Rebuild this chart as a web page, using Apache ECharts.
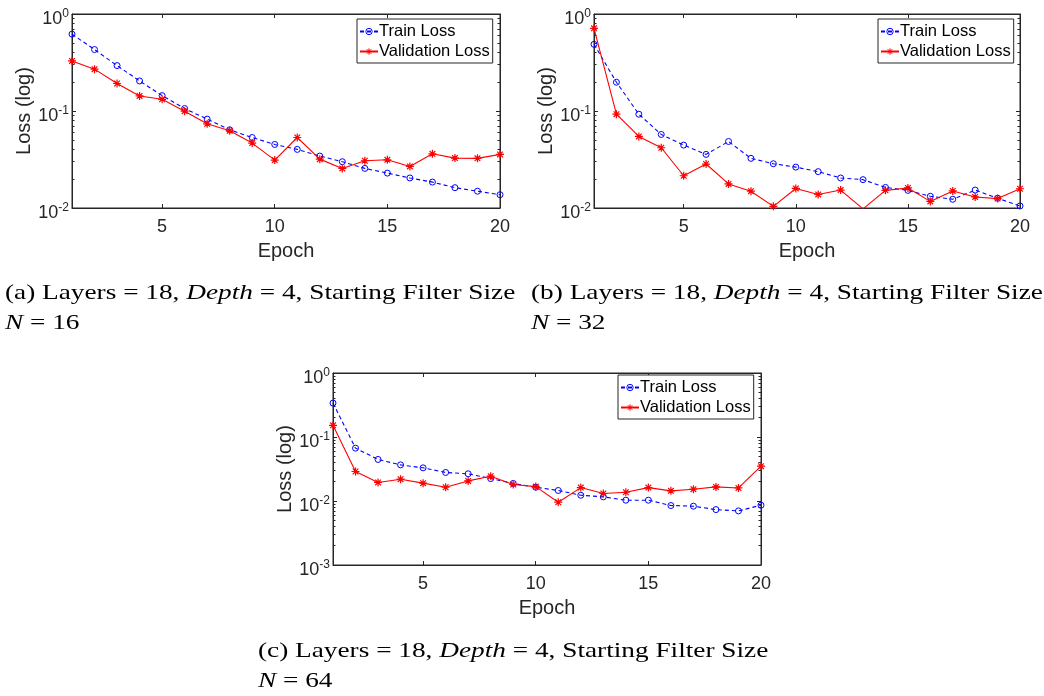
<!DOCTYPE html>
<html>
<head>
<meta charset="utf-8">
<script src="https://cdn.jsdelivr.net/npm/echarts@6/dist/echarts.min.js"></script>
<style>
  html, body { margin: 0; padding: 0; background: #ffffff; }
  #chart { width: 1044px; height: 696px; }
</style>
</head>
<body>
<div id="chart"></div>
<script>
// Epochs 1..20
const epochs = [1, 2, 3, 4, 5, 6, 7, 8, 9, 10, 11, 12, 13, 14, 15, 16, 17, 18, 19, 20];

// (a) N = 16
const trainA = [0.62, 0.43, 0.294, 0.204, 0.144, 0.106, 0.0824, 0.064, 0.0533, 0.0452,
                0.0402, 0.0343, 0.030, 0.0256, 0.0229, 0.0204, 0.0185, 0.0162, 0.0149, 0.0137];
const validA = [0.328, 0.27, 0.192, 0.143, 0.132, 0.0996, 0.0738, 0.0625, 0.0467, 0.0312,
                0.0533, 0.0319, 0.0256, 0.0307, 0.0314, 0.0268, 0.0362, 0.0327, 0.0325, 0.0357];

// (b) N = 32
const trainB = [0.487, 0.198, 0.0927, 0.0573, 0.0445, 0.0357, 0.0485, 0.0325, 0.0286, 0.0264,
                0.0237, 0.0204, 0.0196, 0.0163, 0.0152, 0.0132, 0.0123, 0.0153, 0.0126, 0.0105];
const validB = [0.712, 0.0927, 0.0547, 0.0418, 0.0215, 0.0284, 0.0177, 0.0149, 0.0104, 0.0159,
                0.0138, 0.0153, 0.0098, 0.0152, 0.0161, 0.0117, 0.015, 0.013, 0.0125, 0.0158];

// (c) N = 64
const trainC = [0.339, 0.067, 0.0446, 0.0367, 0.033, 0.0279, 0.0266, 0.0224, 0.0188, 0.0164,
                0.0146, 0.0123, 0.0116, 0.0103, 0.0103, 0.0085, 0.0083, 0.00734, 0.0070, 0.0086];
const validC = [0.152, 0.0289, 0.0195, 0.0219, 0.019, 0.0164, 0.0206, 0.0244, 0.0181, 0.0168,
                0.00957, 0.0162, 0.0131, 0.0137, 0.0162, 0.0144, 0.0153, 0.0166, 0.016, 0.035];

const xTicks = [5, 10, 15, 20];
const yRangeAB = [0.01, 1];
const yRangeC = [0.001, 1];
const seriesNames = ['Train Loss', 'Validation Loss'];
const xName = 'Epoch';
const yName = 'Loss (log)';

const captions = [
  { head: '(a) Layers = 18, ', n: '16' },
  { head: '(b) Layers = 18, ', n: '32' },
  { head: '(c) Layers = 18, ', n: '64' }
];

const AXIS = '#262626';
const SANS = '"Liberation Sans", Arial, Helvetica, sans-serif';
const SERIF = '"Liberation Serif", "Times New Roman", serif';
const STAR = 'path://M0,-10L0,10M-10,0L10,0M-7.07,-7.07L7.07,7.07M-7.07,7.07L7.07,-7.07';

const panels = [
  { grid: { left: 72, top: 14, width: 428, height: 194 }, yr: yRangeAB, train: trainA, valid: validA, legend: { left: 357, top: 19 } },
  { grid: { left: 594, top: 14, width: 426, height: 194 }, yr: yRangeAB, train: trainB, valid: validB, legend: { left: 878, top: 19 } },
  { grid: { left: 333, top: 373, width: 428, height: 192 }, yr: yRangeC, train: trainC, valid: validC, legend: { left: 618, top: 375 } }
];

const grid = [], xAxis = [], yAxis = [], series = [], legend = [];

function expLabel(v) {
  const e = Math.round(Math.log10(v));
  return '{b|10}{e|' + e + '}';
}

panels.forEach(function (p, i) {
  grid.push(Object.assign({ show: true, borderColor: AXIS, borderWidth: 1, backgroundColor: '#ffffff' }, p.grid));

  const xi = xAxis.length;
  // bottom x axis with labels
  xAxis.push({
    gridIndex: i, type: 'value', min: 1, max: 20, position: 'bottom',
    name: xName, nameLocation: 'middle', nameGap: 33,
    nameTextStyle: { fontFamily: SANS, fontSize: 20, color: AXIS },
    axisLine: { show: true, lineStyle: { color: AXIS, width: 1 } },
    axisTick: { show: true, inside: true, length: 4, customValues: xTicks, lineStyle: { color: AXIS } },
    axisLabel: { fontFamily: SANS, fontSize: 18, color: AXIS, margin: 10, customValues: xTicks },
    splitLine: { show: false }
  });
  // top x axis: ticks only, closes the box
  xAxis.push({
    gridIndex: i, type: 'value', min: 1, max: 20, position: 'top',
    axisLine: { show: true, lineStyle: { color: AXIS, width: 1 } },
    axisTick: { show: true, inside: true, length: 4, customValues: xTicks, lineStyle: { color: AXIS } },
    axisLabel: { show: false, customValues: xTicks },
    splitLine: { show: false }
  });

  const yi = yAxis.length;
  const yCommon = {
    gridIndex: i, type: 'log', logBase: 10, min: p.yr[0], max: p.yr[1],
    axisLine: { show: true, lineStyle: { color: AXIS, width: 1 } },
    axisTick: { show: true, inside: true, length: 4, lineStyle: { color: AXIS } },
    minorTick: { show: true, splitNumber: 9, length: 2.5, lineStyle: { color: AXIS, width: 1 } },
    splitLine: { show: false },
    minorSplitLine: { show: false }
  };
  yAxis.push(Object.assign({}, yCommon, {
    position: 'left',
    name: yName, nameLocation: 'middle', nameGap: 37, nameRotate: 90,
    nameTextStyle: { fontFamily: SANS, fontSize: 20, color: AXIS },
    axisLabel: {
      margin: 3, color: AXIS, padding: [8, 0, 0, 0],
      formatter: expLabel,
      rich: {
        b: { fontFamily: SANS, fontSize: 18, color: AXIS, verticalAlign: 'bottom' },
        e: { fontFamily: SANS, fontSize: 12, color: AXIS, verticalAlign: 'bottom', padding: [0, 0, 9, 0] }
      }
    }
  }));
  yAxis.push(Object.assign({}, yCommon, { position: 'right', axisLabel: { show: false } }));

  series.push({
    name: seriesNames[0], type: 'line', xAxisIndex: xi, yAxisIndex: yi,
    data: epochs.map(function (e, k) { return [e, p.train[k]]; }),
    symbol: 'circle', symbolSize: 6,
    itemStyle: { color: 'rgba(0,0,255,0)', borderColor: '#0000ff', borderWidth: 1 },
    lineStyle: { color: '#0000ff', width: 1.1, type: [4, 3] },
    emphasis: { disabled: true }, animation: false, clip: true, z: 3
  });
  series.push({
    name: seriesNames[1], type: 'line', xAxisIndex: xi, yAxisIndex: yi,
    data: epochs.map(function (e, k) { return [e, p.valid[k]]; }),
    symbol: STAR, symbolSize: 8,
    itemStyle: { color: '#ff0000', borderColor: '#ff0000', borderWidth: 1.2 },
    lineStyle: { color: '#ff0000', width: 1.1, type: 'solid' },
    emphasis: { disabled: true }, animation: false, clip: true, z: 4
  });

  legend.push({
    left: p.legend.left, top: p.legend.top, orient: 'vertical',
    data: seriesNames, selectedMode: false,
    backgroundColor: '#ffffff', borderColor: AXIS, borderWidth: 1,
    padding: [4, 3, 3, 2], itemGap: 3, itemWidth: 18, itemHeight: 8,
    itemStyle: { borderWidth: 1 },
    textStyle: { fontFamily: SANS, fontSize: 16.5, color: '#000000', padding: [0, 0, 0, -4] }
  });
});

// captions under each panel (set in a wide serif face)
const capRich = {
  r: { fontFamily: SERIF, fontSize: 22, color: '#000000' },
  i: { fontFamily: SERIF, fontSize: 22, color: '#000000', fontStyle: 'italic' }
};
const capScale = 1.24;
const capPos = [[5, 293, 5, 323], [531, 293, 531, 323], [258, 651, 258, 681]];
const graphic = [];
captions.forEach(function (c, k) {
  const pos = capPos[k];
  graphic.push({
    type: 'text', x: pos[0], y: pos[1], scaleX: capScale, silent: true,
    style: {
      text: '{r|' + c.head + '}{i|Depth}{r| = 4, Starting Filter Size}',
      rich: capRich, verticalAlign: 'middle', align: 'left'
    }
  });
  graphic.push({
    type: 'text', x: pos[2], y: pos[3], scaleX: capScale, silent: true,
    style: {
      text: '{i|N}{r| = ' + c.n + '}',
      rich: capRich, verticalAlign: 'middle', align: 'left'
    }
  });
});

const chart = echarts.init(document.getElementById('chart'), null, { renderer: 'canvas' });
chart.setOption({
  backgroundColor: '#ffffff',
  animation: false,
  grid: grid, xAxis: xAxis, yAxis: yAxis, series: series, legend: legend,
  graphic: graphic
});
</script>
</body>
</html>
